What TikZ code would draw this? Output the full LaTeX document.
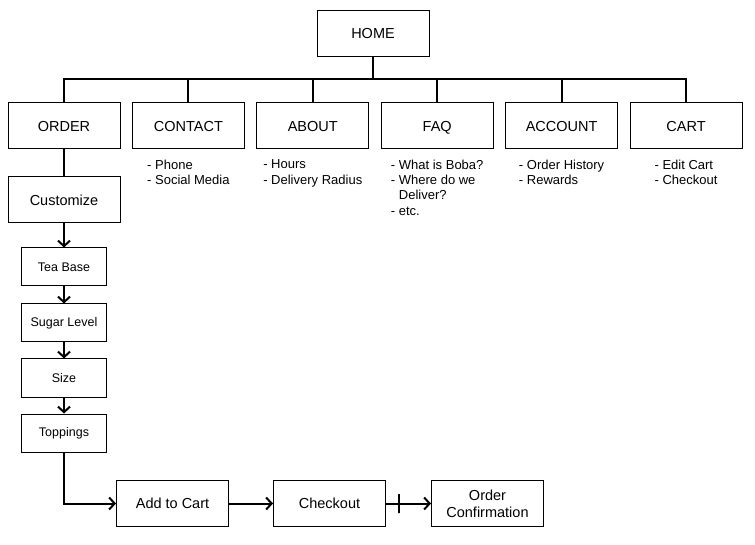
\documentclass[tikz,border=0pt]{standalone}
\usepackage{fontspec}
\setmainfont{Liberation Sans}
\usetikzlibrary{positioning, arrows.meta}

\begin{document}
\begin{tikzpicture}[x=1pt,y=1pt,>={Straight Barb[length=5.5pt,width=12pt]},node distance=11.4pt,
  page/.style={draw, line width=1pt, minimum width=112pt, minimum height=46pt, text depth=0pt, font=\fontsize{14.5}{17}\selectfont},
  substep/.style={draw, line width=1pt, minimum width=85pt, minimum height=38pt, font=\fontsize{12.5}{15}\selectfont},
  notes/.style={align=left, inner sep=0pt, font=\fontsize{13}{15.4}\selectfont},
  link/.style={line width=2pt}]
  \useasboundingbox (0,0) rectangle (755,544);

  \node[page]    (home)                at (373,510.5)   {HOME};
  \node[page]    (order)               at (64,418)      {ORDER};
  \node[page]    (contact) [right=of order]   {CONTACT};
  \node[page]    (about)   [right=of contact] {ABOUT};
  \node[page]    (faq)     [right=of about]   {FAQ};
  \node[page]    (account) [right=of faq]     {ACCOUNT};
  \node[page]    (cart)    [right=of account] {CART};
  \coordinate    (bar)                 at (373,465);

  \node[page]    (custom)  [below=27pt of order]  {Customize};
  \node[substep] (teabase) [below=24pt of custom] {Tea Base};
  \node[substep] (sugar)   [below=17pt of teabase] {Sugar Level};
  \node[substep] (size)    [below=16pt of sugar]  {Size};
  \node[substep] (topping) [below=16pt of size]   {Toppings};

  \node[page]    (addcart)  at (172.5,40.5)        {Add to Cart};
  \node[page]    (checkout) [right=44pt of addcart]  {Checkout};
  \node[page, align=center, text depth=] (confirm) [right=45pt of checkout] {Order\\Confirmation};

  \node[notes, below=10pt of contact] {- Phone\\- Social Media};
  \node[notes, below=10pt of about]   {- Hours\\- Delivery Radius};
  \node[notes, below=10pt of faq]     {- What is Boba?\\- Where do we\\\phantom{- }Deliver?\\- etc.};
  \node[notes, below=10pt of account] {- Order History\\- Rewards};
  \node[notes, below=10pt of cart]    {- Edit Cart\\- Checkout};

  \draw[link] (home) -- (bar);
  \draw[link] (order.north) |- (bar) -| (cart.north);
  \foreach \n in {contact, about, faq, account}
    \draw[link] (\n.north) -- (\n.north |- bar);

  \draw[link] (order) -- (custom);
  \path[link, ->]
        (custom)  edge (teabase)
        (teabase) edge (sugar)
        (sugar)   edge (size)
        (size)    edge (topping);
  \draw[link, ->] (topping) |- (addcart);
  \draw[link, ->] (addcart) -- (checkout);
  \draw[link, ->] (checkout) -- node[pos=0.29, draw, line width=1.6pt, minimum width=0pt, minimum height=19pt, inner sep=0pt] {} (confirm);
\end{tikzpicture}
\end{document}
